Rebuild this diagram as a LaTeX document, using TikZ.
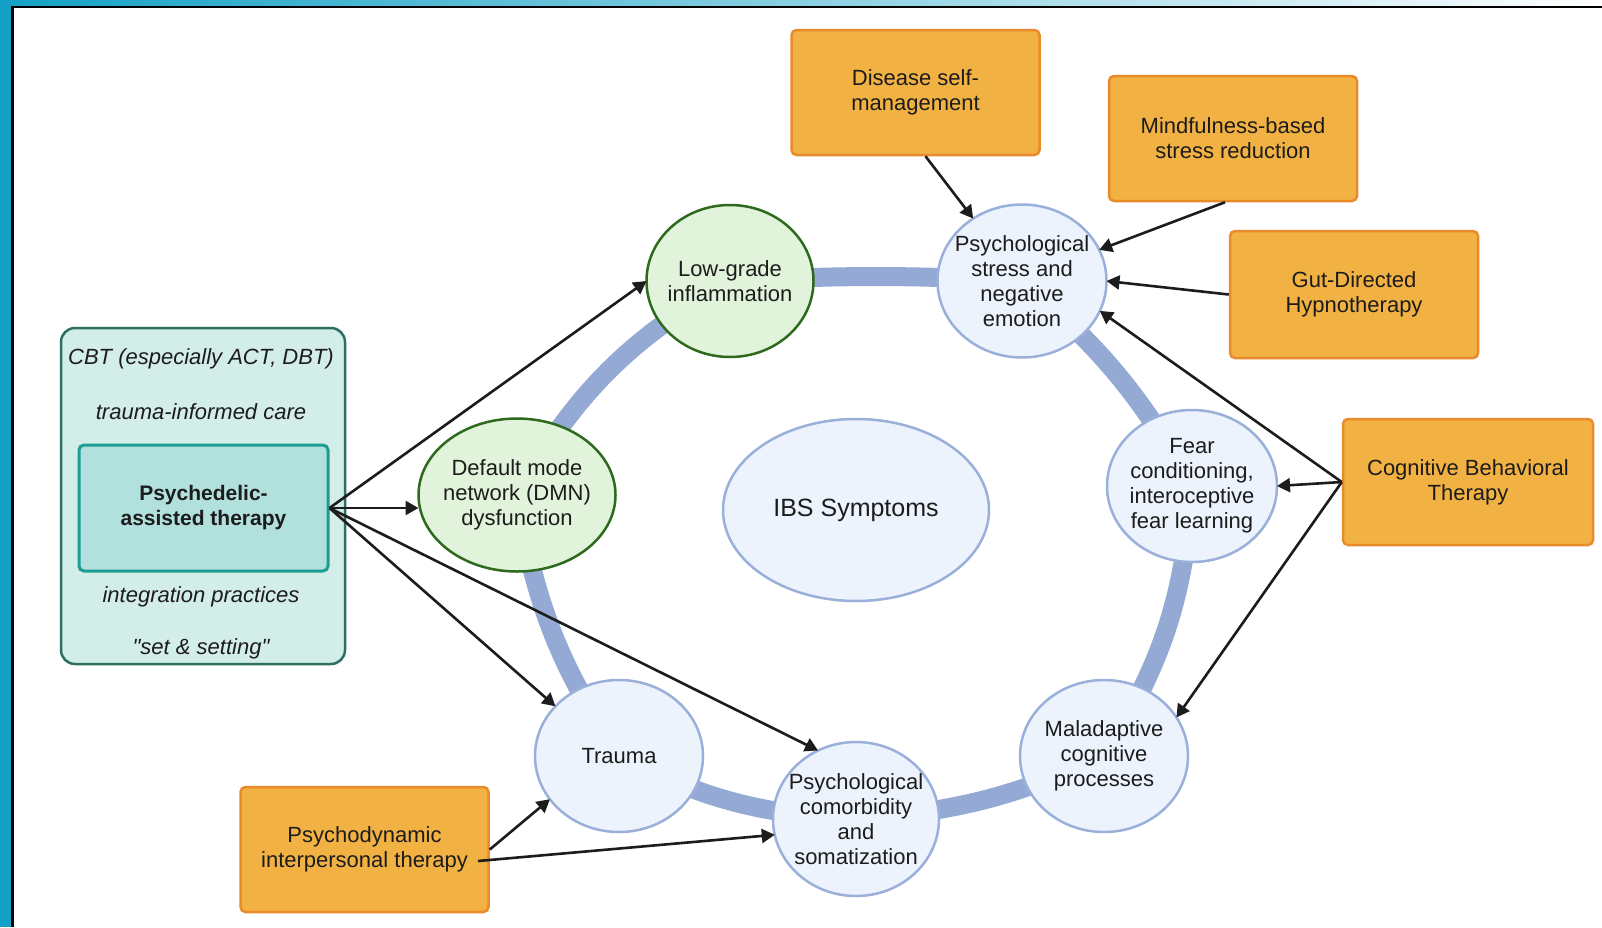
\documentclass[tikz,border=0pt]{standalone}
\usepackage{fontspec}
\setmainfont{Liberation Sans}
\usetikzlibrary{shapes.geometric,arrows.meta}

\definecolor{framecyan}{HTML}{13A1C5}
\definecolor{orfill}{HTML}{F2B243}
\definecolor{ordraw}{HTML}{E98A2C}
\definecolor{grfill}{HTML}{E1F3DA}
\definecolor{grdraw}{HTML}{2D6A1E}
\definecolor{blfill}{HTML}{ECF3FC}
\definecolor{bldraw}{HTML}{9AB0DA}
\definecolor{ringcol}{HTML}{94A9D3}
\definecolor{tealfill}{HTML}{D3EDE9}
\definecolor{tealdraw}{HTML}{2F6F62}
\definecolor{innerfill}{HTML}{B2E0DC}
\definecolor{innerdraw}{HTML}{1A9E96}
\definecolor{ink}{HTML}{1C1C1C}

\tikzset{
  txt/.style={text=ink, font=\fontsize{22}{25}\selectfont, align=center, inner sep=0pt},
  oval/.style={ellipse, line width=2.5pt, inner sep=0pt, outer sep=0pt},
  greenoval/.style={oval, draw=grdraw, fill=grfill},
  blueoval/.style={oval, draw=bldraw, fill=blfill},
  orangebox/.style={txt, rectangle, rounded corners=5pt, draw=ordraw, fill=orfill,
    line width=2.5pt, minimum width=248pt, minimum height=125pt},
  ringline/.style={draw=ringcol, line width=19pt, line join=round},
  arr/.style={draw=ink, line width=2.6pt, -{Triangle[length=13pt,width=14pt]}},
  note/.style={txt, font=\fontsize{22}{25}\selectfont\itshape}
}

\begin{document}
\begin{tikzpicture}[x=1pt,y=-1pt]
\useasboundingbox (0,0) rectangle (1602,927);

% page frame
\fill[white] (0,0) rectangle (1602,927);
\fill[framecyan] (0,0) rectangle (12,927);
\shade[left color=framecyan, right color=white] (0,0) rectangle (1602,7);
\draw[black, line width=2.5pt] (12.5,927) -- (12.5,7) -- (1602,7);

% centres of the cycle
\coordinate (cLow) at (730,281);
\coordinate (cStress) at (1022,281);
\coordinate (cFear) at (1192,486);
\coordinate (cMal) at (1104,756);
\coordinate (cCom) at (856,819);
\coordinate (cTrauma) at (619,756);
\coordinate (cDmn) at (517,495);

% the cycle ring, one gently bowed arc from node to node
\draw[ringline] (cLow) to[bend left=3] (cStress) to[bend left=10] (cFear)
  to[bend left=14] (cMal) to[bend left=10] (cCom) to[bend left=12] (cTrauma)
  to[bend left=12] (cDmn) to[bend left=15] (cLow);

% centre
\node[blueoval, minimum width=266pt, minimum height=182pt,
  label={[txt, font=\fontsize{25}{28}\selectfont]center:IBS Symptoms}] (ibs) at (856,510) {};

% mechanisms
\node[greenoval, minimum width=167pt, minimum height=152pt,
  label={[txt]center:{Low-grade\\inflammation}}] (low) at (cLow) {};
\node[greenoval, minimum width=197pt, minimum height=153pt,
  label={[txt]center:{Default mode\\network (DMN)\\dysfunction}}] (dmn) at (cDmn) {};
\node[blueoval, minimum width=169pt, minimum height=153pt,
  label={[txt]center:{Psychological\\stress and\\negative\\emotion}}] (stress) at (cStress) {};
\node[blueoval, minimum width=170pt, minimum height=152pt,
  label={[txt]center:{Fear\\conditioning,\\interoceptive\\fear learning}}] (fear) at (cFear) {};
\node[blueoval, minimum width=168pt, minimum height=152pt,
  label={[txt]center:{Maladaptive\\cognitive\\processes}}] (mal) at (cMal) {};
\node[blueoval, minimum width=166pt, minimum height=154pt,
  label={[txt]center:{Psychological\\comorbidity\\and\\somatization}}] (com) at (cCom) {};
\node[blueoval, minimum width=168pt, minimum height=152pt,
  label={[txt]center:Trauma}] (trauma) at (cTrauma) {};

% therapies
\node[orangebox] (dis) at (915.5,92.5) {Disease self-\\management};
\node[orangebox] (mind) at (1233,138.5) {Mindfulness-based\\stress reduction};
\node[orangebox, minimum height=127pt] (gut) at (1354,294.5) {Gut-Directed\\Hypnotherapy};
\node[orangebox, minimum width=250pt, minimum height=126pt] (cbt) at (1468,482) {Cognitive Behavioral\\Therapy};
\node[orangebox] (pd) at (364.5,849.5) {Psychodynamic\\interpersonal therapy};

% psychedelic-assisted therapy panel
\node[rectangle, rounded corners=14pt, draw=tealdraw, fill=tealfill, line width=2.5pt,
  minimum width=284pt, minimum height=336pt] (panel) at (203,496) {};
\node[note] (n1) at (201,359) {CBT (especially ACT, DBT)};
\node[note] (n2) at (201,412) {trauma-informed care};
\node[note] (n3) at (201,597) {integration practices};
\node[note] (n4) at (201,649) {\addfontfeature{Ligatures=TeXOff}"set \& setting"};
\node[txt, rectangle, rounded corners=5pt, draw=innerdraw, fill=innerfill, line width=3pt,
  minimum width=249pt, minimum height=126pt, font=\fontsize{21}{25}\selectfont\bfseries]
  (psy) at (203.5,508) {Psychedelic-\\assisted therapy};

% connectors
\draw[arr] (psy.east) -- (low.west);
\draw[arr] (psy.east) -- (dmn.west |- psy.east);
\draw[arr] (psy.east) -- (trauma.142);
\draw[arr] (psy.east) -- (com.119);

\draw[arr] ([xshift=10pt]dis.south) -- (stress.128);
\draw[arr] ([xshift=-8pt]mind.south) -- (stress.22);
\draw[arr] (gut.west) -- (stress.east);
\draw[arr] (cbt.west) -- (stress.-21);
\draw[arr] (cbt.west) -- (fear.east);
\draw[arr] (cbt.west) -- (mal.28);

\coordinate (pdout) at (478,861);
\draw[arr] (pd.east) -- (trauma.212);
\draw[arr] (pdout) -- (com.191);
\end{tikzpicture}
\end{document}
